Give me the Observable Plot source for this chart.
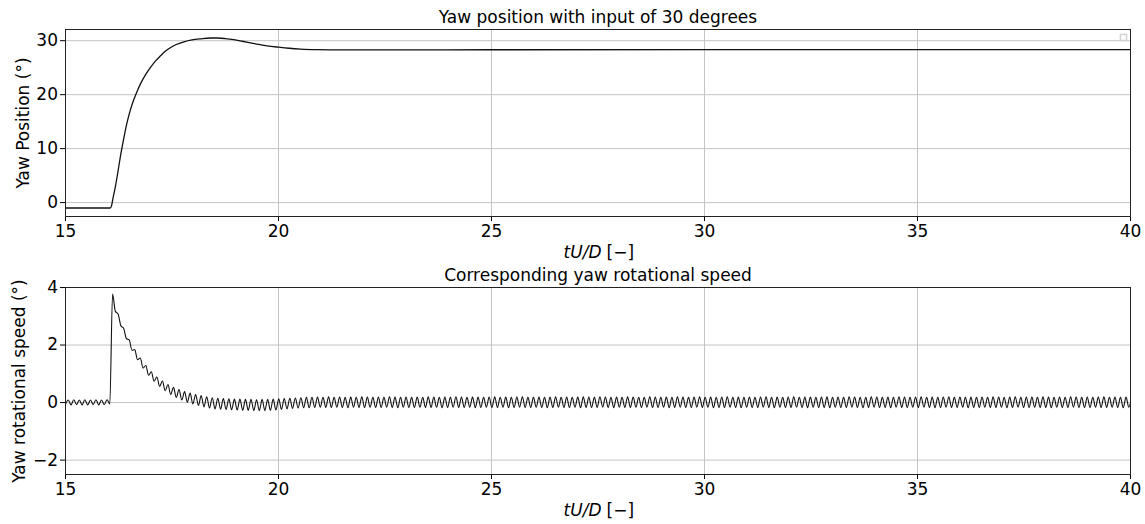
<!DOCTYPE html>
<html><head><meta charset="utf-8">
<script src="https://cdn.jsdelivr.net/npm/d3@7"></script>
<script src="https://cdn.jsdelivr.net/npm/@observablehq/plot@0.6"></script>
<style>
body{margin:0;background:#fff;}
#chart svg{display:block;}
</style></head><body><div id="chart"></div>
<script>
// ---- data ----
const xTicks = [15, 20, 25, 30, 35, 40];
const posYTicks = [0, 10, 20, 30];
const speedYTicks = [-2, 0, 2, 4];

const posTime = [15, 16.05, 16.08, 16.12, 16.17, 16.22, 16.29, 16.37, 16.45, 16.52, 16.6, 16.68, 16.76, 16.88, 17.0, 17.12, 17.23, 17.35, 17.46, 17.6, 17.78, 17.97, 18.17, 18.4, 18.56, 18.75, 18.95, 19.15, 19.34, 19.53, 19.73, 20.0, 20.25, 20.52, 20.9, 21.5, 22.5, 25, 30, 35, 40];
const posValue = [-1.0, -1.0, -0.6, 1.0, 2.9, 5.2, 8.6, 12.0, 15.0, 17.1, 19.0, 20.6, 22.0, 23.7, 25.1, 26.3, 27.2, 28.1, 28.7, 29.3, 29.8, 30.15, 30.35, 30.5, 30.5, 30.4, 30.2, 29.9, 29.6, 29.3, 29.05, 28.8, 28.6, 28.45, 28.35, 28.3, 28.3, 28.32, 28.33, 28.33, 28.33];

// yaw rotational speed sampled every half ripple period, starting at tU/D = 15
const speedStart = 15;
const speedStep = 0.065;
const speedValue = [
 -0.06,0.09,-0.08,0.1,-0.07,0.09,-0.08,0.1,-0.08,0.09,-0.07,0.1,-0.08,0.09,-0.07,0.1,-0.05,
 3.77,3.17,3.08,2.67,2.58,2.22,2.18,1.82,1.84,1.49,1.55,1.2,1.29,0.95,
 1.07,0.74,0.89,0.56,0.75,0.41,0.63,0.28,0.53,0.18,0.45,0.09,0.38,0.01,0.33,-0.05,0.28,-0.1,0.24,-0.15,
 0.2,-0.19,0.17,-0.22,0.15,-0.23,0.14,-0.24,0.13,-0.25,0.12,-0.26,0.12,-0.27,0.11,-0.27,0.11,-0.28,0.1,-0.28,
 0.11,-0.28,0.11,-0.27,0.12,-0.26,0.13,-0.24,0.14,-0.22,0.15,-0.2,0.16,-0.19,0.17,-0.18,0.18,-0.18,
 0.18,-0.17,0.19,-0.16,0.18,-0.17,0.2,-0.17,0.18,-0.16,0.19,-0.17,0.18,-0.18,0.19,-0.16,0.18,-0.17,0.2,-0.17,
 0.19,-0.16,0.18,-0.17,0.19,-0.17,0.18,-0.16,0.2,-0.17,0.19,-0.18,0.18,-0.16,0.19,-0.17,0.18,-0.17,0.19,-0.16,
 0.18,-0.17,0.2,-0.17,0.19,-0.16,0.18,-0.18,0.19,-0.17,0.18,-0.16,0.2,-0.17,0.19,-0.17,0.18,-0.16,0.19,-0.18,
 0.19,-0.17,0.18,-0.16,0.19,-0.17,0.2,-0.17,0.18,-0.16,0.19,-0.18,0.18,-0.17,0.19,-0.16,0.2,-0.17,0.18,-0.17,
 0.18,-0.16,0.19,-0.17,0.18,-0.18,0.19,-0.17,0.2,-0.16,0.18,-0.17,0.19,-0.17,0.18,-0.16,0.19,-0.18,0.2,-0.17,
 0.19,-0.17,0.18,-0.17,0.2,-0.16,0.19,-0.17,0.18,-0.18,0.19,-0.16,0.18,-0.17,0.2,-0.17,0.19,-0.16,0.18,-0.17,
 0.18,-0.16,0.2,-0.17,0.19,-0.17,0.18,-0.16,0.19,-0.18,0.18,-0.17,0.2,-0.16,0.19,-0.17,0.18,-0.17,0.19,-0.16,
 0.2,-0.17,0.18,-0.16,0.19,-0.18,0.18,-0.17,0.19,-0.17,0.2,-0.16,0.18,-0.17,0.19,-0.18,0.18,-0.16,0.19,-0.17,
 0.18,-0.17,0.19,-0.16,0.2,-0.17,0.18,-0.18,0.19,-0.16,0.18,-0.17,0.19,-0.17,0.2,-0.16,0.18,-0.17,0.19,-0.18,
 0.19,-0.16,0.18,-0.17,0.19,-0.17,0.2,-0.18,0.18,-0.16,0.19,-0.17,0.18,-0.17,0.2,-0.16,0.19,-0.17,0.18,-0.18,
 0.18,-0.17,0.2,-0.16,0.19,-0.17,0.18,-0.17,0.19,-0.18,0.18,-0.16,0.2,-0.17,0.19,-0.17,0.18,-0.16,0.19,-0.17,
 0.2,-0.16,0.18,-0.17,0.19,-0.18,0.18,-0.17,0.19,-0.16,0.2,-0.17,0.18,-0.17,0.19,-0.16,0.18,-0.18,0.19,-0.17,
 0.18,-0.17,0.19,-0.16,0.18,-0.17,0.2,-0.17,0.19,-0.16,0.18,-0.18,0.19,-0.17,0.2,-0.16,0.18,-0.17,0.19,-0.17,
 0.19,-0.16,0.18,-0.17,0.2,-0.17,0.19,-0.18,0.18,-0.16,0.19,-0.17,0.18,-0.17,0.2,-0.16,0.19,-0.17,0.18,-0.17,
 0.19,-0.17,0.18,-0.16,0.19,-0.17,0.2,-0.17,0.18,-0.16,0.19,-0.17,0.18,-0.18,0.19,-0.16,0.18
];

const titles = ["Yaw position with input of 30 degrees", "Corresponding yaw rotational speed"];
const yLabels = ["Yaw Position (°)", "Yaw rotational speed (°)"];
const xLabelItalic = "tU/D";
const xLabelUnit = "[−]";

// ---- tables ----
const posData = posTime.map((t, i) => ({t, v: posValue[i]}));
const speedData = speedValue.map((v, i) => ({t: speedStart + i * speedStep, v}));

const gridStyle = {stroke: "#c4c4c4", strokeOpacity: 1, strokeWidth: 1};

function panel({data, yDomain, yTicks, title, ylabel, ylabelDx, marginTop, marginBottom, curve, strokeWidth, legendBox}) {
  return Plot.plot({
    width: 1145, height: 262,
    marginLeft: 65, marginRight: 15, marginTop, marginBottom,
    style: {fontFamily: "'DejaVu Sans', sans-serif", fontSize: "17px", background: "white", color: "black"},
    x: {domain: [15, 40], ticks: xTicks, label: null},
    y: {domain: yDomain, ticks: yTicks, label: null},
    marks: [
      Plot.gridX(xTicks, gridStyle),
      Plot.gridY(yTicks, gridStyle),
      Plot.axisX(xTicks, {tickSize: 5, tickPadding: 3, label: null, fontSize: 17}),
      Plot.axisY(yTicks, {tickSize: 5, tickPadding: 2.5, label: null, fontSize: 17}),
      Plot.line(data, {x: "t", y: "v", stroke: "#111", strokeWidth, curve, clip: true}),
      Plot.frame({stroke: "#222", strokeWidth: 1}),
      ...(legendBox ? [Plot.dot([0], {frameAnchor: "top-right", dx: -7, dy: 8, symbol: "square", r: 3.5, stroke: "#d4d4d4", fill: "white"})] : []),
      Plot.text([title], {text: d => d, frameAnchor: "top", dy: -11.5, lineAnchor: "middle", textAnchor: "middle", fontSize: 17}),
      Plot.text([ylabel], {text: d => d, frameAnchor: "left", dx: ylabelDx, rotate: -90, lineAnchor: "middle", textAnchor: "middle", fontSize: 17}),
      Plot.text([xLabelItalic], {text: d => d, frameAnchor: "bottom", dy: 36, dx: 3.5, lineAnchor: "middle", textAnchor: "end", fontStyle: "italic", fontSize: 17}),
      Plot.text([xLabelUnit], {text: d => d, frameAnchor: "bottom", dy: 36, dx: 8.5, lineAnchor: "middle", textAnchor: "start", fontSize: 17})
    ]
  });
}

const topPanel = panel({
  data: posData, yDomain: [-2.575, 32.075], yTicks: posYTicks,
  title: titles[0], ylabel: yLabels[0], ylabelDx: -41.5,
  marginTop: 29, marginBottom: 46, curve: "monotone-x", strokeWidth: 1.3, legendBox: true
});
const bottomPanel = panel({
  data: speedData, yDomain: [-2.5, 4], yTicks: speedYTicks,
  title: titles[1], ylabel: yLabels[1], ylabelDx: -45.5,
  marginTop: 25, marginBottom: 50, curve: "monotone-x", strokeWidth: 1.1, legendBox: false
});
document.getElementById("chart").append(topPanel, bottomPanel);
</script>
</body></html>
